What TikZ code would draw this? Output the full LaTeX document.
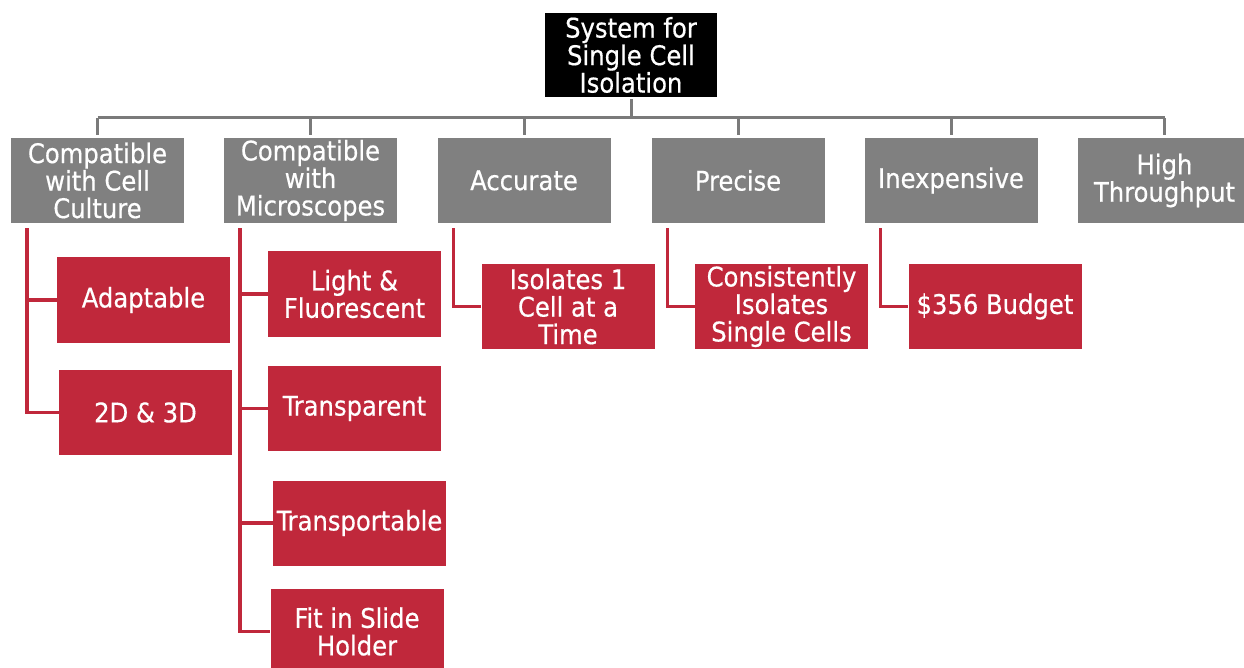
\documentclass[tikz,border=0pt]{standalone}
\usepackage{fontspec}
\setmainfont[FakeBold=0.5]{DejaVu Sans Condensed}
\definecolor{boxgray}{HTML}{808080}
\definecolor{linegray}{HTML}{7A7A7A}
\definecolor{boxred}{HTML}{C0283B}
\begin{document}
\begin{tikzpicture}[x=1pt,y=-1pt,
  base/.style={inner sep=0pt, align=center, text=white,
    font=\fontsize{27}{27.5}\selectfont, minimum width=173pt, minimum height=85pt},
  rootbox/.style={base, fill=black, minimum width=172pt, minimum height=84pt},
  catbox/.style={base, fill=boxgray},
  leafbox/.style={base, fill=boxred},
  graylink/.style={draw=linegray, line width=3pt},
  redlink/.style={draw=boxred, line width=3.5pt}]
\useasboundingbox (0,0) rectangle (1244,668);
\clip (0,0) rectangle (1244,668);
\fill[white] (0,0) rectangle (1244,668);

% root
\node[rootbox] (root) at (631,55) {System for\\Single Cell\\Isolation};

% categories
\node[catbox] (c1) at (97.5,180.5) {Compatible\\with Cell\\Culture};
\node[catbox] (c2) at (310.5,180.5) {Compatible\\with\\Microscopes};
\node[catbox] (c3) at (524,180.5) {Accurate};
\node[catbox] (c4) at (738,180.5) {Precise};
\node[catbox] (c5) at (951,180.5) {Inexpensive};
\node[catbox] (c6) at (1164.5,180.5) {High\\Throughput};

% bus
\coordinate (bus) at (631,118);
\draw[graylink] ([yshift=-2pt]root.south) -- (bus);
\draw[graylink] (c1.north |- bus) -- (c6.north |- bus);
\foreach \n in {c1,c2,c3,c4,c5,c6}
  \draw[graylink] ([yshift=3pt]\n.north) -- (\n.north |- bus);

% leaves
\node[leafbox] (a1) at (143.5,300) {Adaptable};
\node[leafbox] (a2) at (145.5,412.5) {2D \& 3D};
\node[leafbox] (b1) at (354.5,294) {Light \&\\Fluorescent};
\node[leafbox] (b2) at (354.5,408.5) {Transparent};
\node[leafbox] (b3) at (359.5,523) {Transportable};
\node[leafbox] (b4) at (357,631.5) {Fit in Slide\\Holder};
\node[leafbox] (d1) at (568,306.5) {Isolates 1\\Cell at a\\Time};
\node[leafbox] (e1) at (781.5,306.5) {Consistently\\Isolates\\Single Cells};
\node[leafbox] (f1) at (995,306.5) {\$356 Budget};

% red connectors
\foreach \p/\k in {c1/a1, c1/a2, c2/b1, c2/b2, c2/b3, c2/b4, c3/d1, c4/e1, c5/f1}
  \draw[redlink] ([shift={(16pt,-5pt)}]\p.south west) |- (\k.west);
\end{tikzpicture}
\end{document}
